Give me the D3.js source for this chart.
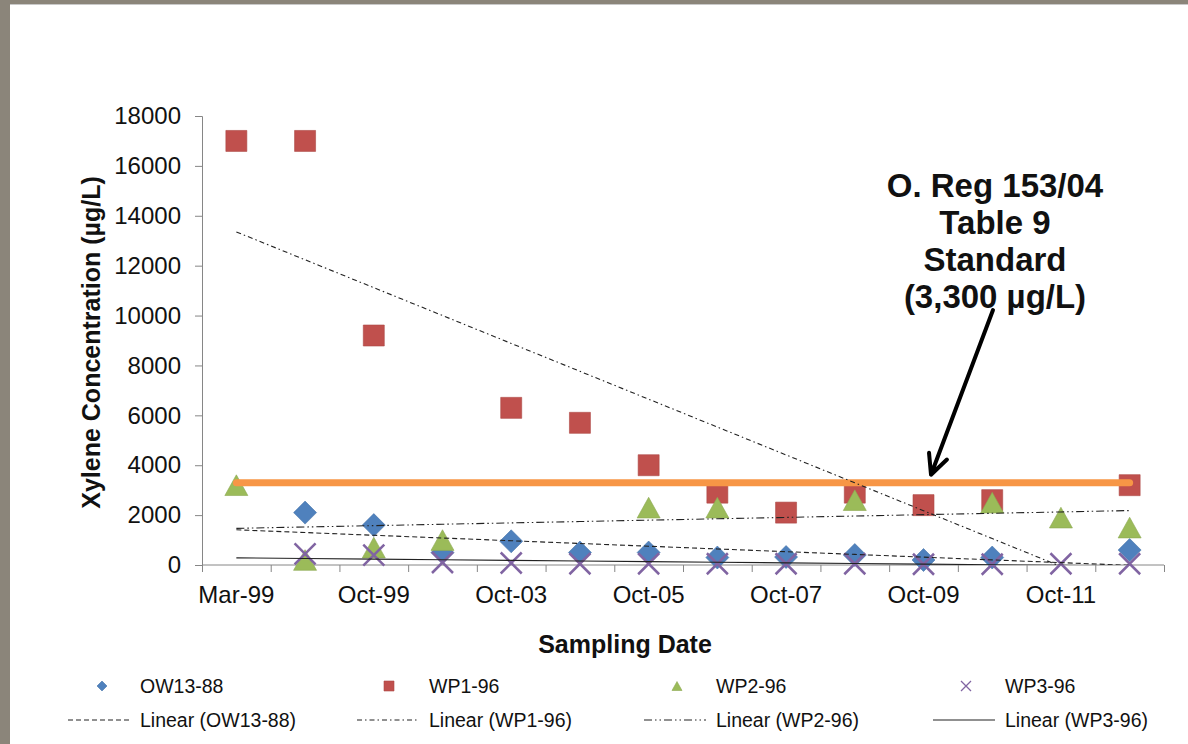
<!DOCTYPE html>
<html>
<head>
<meta charset="utf-8">
<script src="https://cdn.jsdelivr.net/npm/d3@7"></script>
<style>
  body { margin: 0; background: #fff; }
  svg { display: block; font-family: Arial, "Liberation Sans", sans-serif; }
</style>
</head>
<body>
<div class="canva"></div>
<script>
// categories on the x axis (only every other one is labelled in the chart)
const categories = ["Mar-99", "Jun-99", "Oct-99", "Oct-01", "Oct-03", "Oct-04", "Oct-05",
                    "Oct-06", "Oct-07", "Oct-08", "Oct-09", "Oct-10", "Oct-11", "Oct-12"];

// xylene concentrations (ug/L), null = not sampled
const ow13 = [null, 2100, 1600, 500, 950, 500, 500, 300, 320, 400, 200, 300, null, 600];
const wp1  = [17000, 17000, 9200, null, 6300, 5700, 4000, 2900, 2100, 2900, 2400, 2600, null, 3200];
const wp2  = [3200, 200, 700, 1000, null, null, 2300, 2300, null, 2600, null, 2500, 1900, 1500];
const wp3  = [null, 450, 400, 100, 80, 50, 50, 50, 50, 50, 30, 30, 50, 50];

const standardValue = 3300;
const yTicks = [0, 2000, 4000, 6000, 8000, 10000, 12000, 14000, 16000, 18000];
const xLabelled = categories.filter((d, i) => i % 2 === 0);

const series = [
  {name: "OW13-88", values: ow13, color: "#4f81bd", shape: "diamond", dash: "5,3"},
  {name: "WP1-96",  values: wp1,  color: "#c0504d", shape: "square",  dash: "5,3,1.5,3"},
  {name: "WP2-96",  values: wp2,  color: "#9bbb59", shape: "triangle", dash: "8,3,1.5,3,1.5,3"},
  {name: "WP3-96",  values: wp3,  color: "#8064a2", shape: "x",       dash: null}
];

const W = 1188, H = 744;
const svg = d3.select(".canva").append("svg")
  .attr("width", W)
  .attr("height", H);

// grey slide frame
svg.append("rect").attr("x", 0).attr("y", 0).attr("width", W).attr("height", 4).attr("fill", "#8b857a");
svg.append("rect").attr("x", 0).attr("y", 4).attr("width", W).attr("height", 1).attr("fill", "#c9c9c9");
svg.append("rect").attr("x", 0).attr("y", 0).attr("width", 10).attr("height", H).attr("fill", "#8b857a");

const pLeft = 202, pRight = 1164, pTop = 116, pBottom = 565;

const x = d3.scaleBand().domain(categories).range([pLeft, pRight]).padding(0);
const xi = d3.scaleLinear().domain([0, categories.length]).range([pLeft, pRight]);
const y = d3.scaleLinear().domain([0, 18000]).range([pBottom, pTop]);
const cx = c => x(c) + x.bandwidth() / 2;

// y axis
const yAxis = svg.append("g")
  .attr("transform", `translate(${pLeft},0)`)
  .call(d3.axisLeft(y).tickValues(yTicks).tickSize(7).tickPadding(14).tickFormat(d3.format("d")));
yAxis.selectAll("path, line").attr("stroke", "#868686");
yAxis.selectAll("text").attr("font-size", 24).attr("fill", "#111").attr("font-family", "Arial, 'Liberation Sans', sans-serif");

// x axis: ticks on category boundaries, labels on every other category
const xAxis = svg.append("g")
  .attr("transform", `translate(0,${pBottom})`)
  .call(d3.axisBottom(xi).tickValues(d3.range(categories.length + 1)).tickSize(7).tickFormat(""));
xAxis.select(".domain").remove();
xAxis.selectAll("line").attr("stroke", "#868686");
svg.append("line")
  .attr("x1", pLeft).attr("x2", pRight).attr("y1", pBottom).attr("y2", pBottom)
  .attr("stroke", "#868686");

const xLab = svg.append("g")
  .attr("transform", `translate(0,${pBottom})`)
  .call(d3.axisBottom(x).tickValues(xLabelled).tickSize(0).tickPadding(21));
xLab.select(".domain").remove();
xLab.selectAll("text").attr("font-size", 24).attr("fill", "#111").attr("font-family", "Arial, 'Liberation Sans', sans-serif");

// axis titles
svg.append("text")
  .attr("transform", `translate(100,${(pTop + pBottom) / 2 + 2}) rotate(-90)`)
  .attr("text-anchor", "middle")
  .attr("font-size", 25).attr("font-weight", "bold").attr("fill", "#111")
  .text("Xylene Concentration (µg/L)");

svg.append("text")
  .attr("x", 625).attr("y", 653)
  .attr("text-anchor", "middle")
  .attr("font-size", 25).attr("font-weight", "bold").attr("fill", "#111")
  .text("Sampling Date");

// marker shapes
function shapePath(shape, s) {
  const h = s / 2;
  if (shape === "diamond") return `M0,${-h}L${h},0L0,${h}L${-h},0Z`;
  if (shape === "square") return `M${-h},${-h}H${h}V${h}H${-h}Z`;
  if (shape === "triangle") return `M0,${-h * 0.9}L${h},${h * 0.9}L${-h},${h * 0.9}Z`;
  return `M${-h},${-h}L${h},${h}M${h},${-h}L${-h},${h}`;
}
function drawMarker(g, d, shape, color, s) {
  const p = g.append("path")
    .attr("transform", `translate(${d[0]},${d[1]})`)
    .attr("d", shapePath(shape, s));
  if (shape === "x") {
    p.attr("fill", "none").attr("stroke", color).attr("stroke-width", s > 15 ? 2.5 : 1.3);
  } else {
    p.attr("fill", color).attr("stroke", d3.color(color).darker(0.3)).attr("stroke-width", 0.6);
  }
}

const sizes = {diamond: 23, square: 21, triangle: 23, x: 21};

// data markers
const marks = svg.append("g");
series.forEach(s => {
  s.values.forEach((v, i) => {
    if (v == null) return;
    drawMarker(marks, [cx(categories[i]), y(v)], s.shape, s.color, sizes[s.shape]);
  });
});

// standard line
const line = d3.line().x(d => cx(d)).y(() => y(standardValue));
svg.append("path")
  .datum(categories)
  .attr("d", line)
  .attr("fill", "none")
  .attr("stroke", "#f79646")
  .attr("stroke-width", 7)
  .attr("stroke-linecap", "round");

// linear trendlines (least squares over category index)
svg.append("clipPath").attr("id", "plot")
  .append("rect").attr("x", pLeft).attr("y", pTop).attr("width", pRight - pLeft).attr("height", pBottom - pTop);

function fit(values) {
  const pts = values.map((v, i) => [i + 1, v]).filter(p => p[1] != null);
  const mx = d3.mean(pts, p => p[0]), my = d3.mean(pts, p => p[1]);
  const sxy = d3.sum(pts, p => (p[0] - mx) * (p[1] - my));
  const sxx = d3.sum(pts, p => (p[0] - mx) * (p[0] - mx));
  const b = sxy / sxx;
  return i => my + b * (i + 1 - mx);
}
const trends = svg.append("g").attr("clip-path", "url(#plot)");
series.forEach(s => {
  const f = fit(s.values);
  const tl = d3.line().x((d, i) => cx(d)).y((d, i) => y(f(i)));
  trends.append("path")
    .datum(categories)
    .attr("d", tl)
    .attr("fill", "none")
    .attr("stroke", "#222")
    .attr("stroke-width", 1.1)
    .attr("stroke-dasharray", s.dash);
});

// annotation
const note = ["O. Reg 153/04", "Table 9", "Standard", "(3,300 µg/L)"];
svg.append("g").selectAll("text").data(note).join("text")
  .attr("x", 995)
  .attr("y", (d, i) => 197 + i * 37)
  .attr("text-anchor", "middle")
  .attr("font-size", 33).attr("font-weight", "bold").attr("fill", "#111")
  .text(d => d);

const start = [993, 310], tip = [931, y(standardValue) - 8];
const ang = Math.atan2(start[1] - tip[1], start[0] - tip[0]);
const arm = 22, spread = 0.45;
svg.append("path")
  .attr("d", `M${start[0]},${start[1]}L${tip[0]},${tip[1]}` +
    `M${tip[0] + arm * Math.cos(ang - spread)},${tip[1] + arm * Math.sin(ang - spread)}L${tip[0]},${tip[1]}` +
    `L${tip[0] + arm * Math.cos(ang + spread)},${tip[1] + arm * Math.sin(ang + spread)}`)
  .attr("fill", "none")
  .attr("stroke", "#000")
  .attr("stroke-width", 4)
  .attr("stroke-linecap", "round")
  .attr("stroke-linejoin", "round");

// legend
const legX = [102, 389, 677, 966];
const legTextX = [140, 429, 716, 1005];
const leg = svg.append("g");
series.forEach((s, i) => {
  drawMarker(leg, [legX[i], 686], s.shape, s.color, 10);
  leg.append("text")
    .attr("x", legTextX[i]).attr("y", 686).attr("dy", "0.35em")
    .attr("font-size", 19.5).attr("fill", "#111")
    .text(s.name);
  leg.append("line")
    .attr("x1", legTextX[i] - 72).attr("x2", legTextX[i] - 10)
    .attr("y1", 720).attr("y2", 720)
    .attr("stroke", "#222").attr("stroke-width", 1.1)
    .attr("stroke-dasharray", s.dash);
  leg.append("text")
    .attr("x", legTextX[i]).attr("y", 720).attr("dy", "0.35em")
    .attr("font-size", 19.5).attr("fill", "#111")
    .text(`Linear (${s.name})`);
});
</script>
</body>
</html>
